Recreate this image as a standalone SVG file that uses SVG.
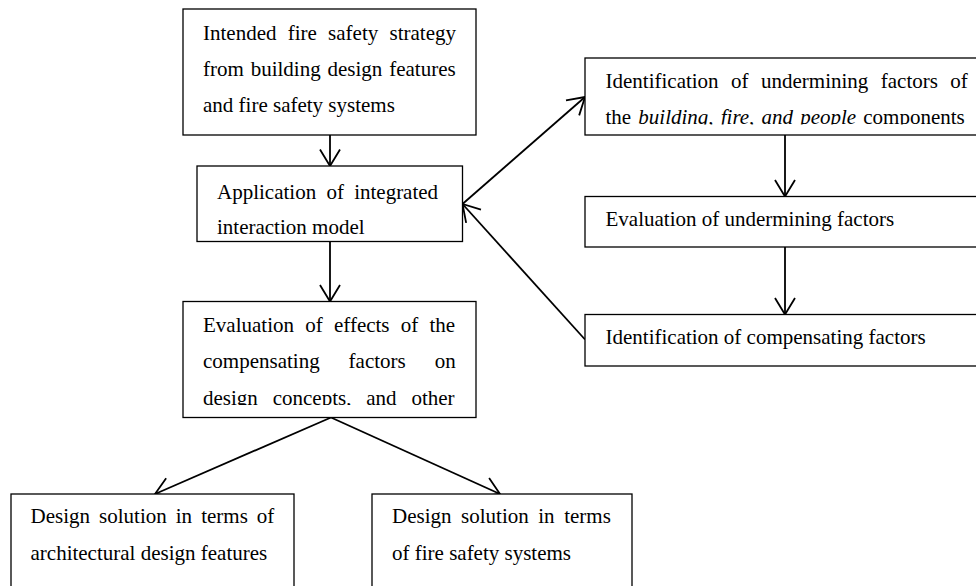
<svg xmlns="http://www.w3.org/2000/svg" width="976" height="586" viewBox="0 0 976 586">
<style>
.box{fill:#fff;stroke:#000;stroke-width:1.3}
.t{font-family:"Liberation Serif","Times New Roman",serif;font-size:21px;fill:#000}
.i{font-style:italic}
.c{fill:none;stroke:#000;stroke-width:1.8}
</style>
<defs>
<marker id="arr" markerUnits="userSpaceOnUse" viewBox="-18 -11 20 22" markerWidth="20" markerHeight="22" refX="0" refY="0" orient="auto" overflow="visible">
<path d="M-16.5,-10 L0,0 L-16.5,10" fill="none" stroke="#000" stroke-width="1.8"/>
</marker>
<clipPath id="clipR1"><rect x="580" y="50" width="400" height="74.5"/></clipPath>
<clipPath id="clipB3"><rect x="180" y="295" width="300" height="110"/></clipPath>
</defs>
<rect width="976" height="586" fill="#fff"/>
<g id="connectors">
<line class="c" x1="330" y1="135" x2="330" y2="166" marker-end="url(#arr)"/>
<line class="c" x1="330" y1="241.5" x2="330" y2="301.5" marker-end="url(#arr)"/>
<line class="c" x1="462.5" y1="204" x2="585" y2="97" marker-end="url(#arr)"/>
<line class="c" x1="585" y1="339.5" x2="462.5" y2="204" marker-end="url(#arr)"/>
<line class="c" x1="785" y1="135" x2="785" y2="196.5" marker-end="url(#arr)"/>
<line class="c" x1="785" y1="247" x2="785" y2="314.5" marker-end="url(#arr)"/>
<line class="c" x1="331" y1="417.5" x2="155" y2="494" marker-end="url(#arr)"/>
<line class="c" x1="331" y1="417.5" x2="500" y2="494" marker-end="url(#arr)"/>
</g>
<g id="n1">
<rect class="box" x="183" y="9" width="293" height="126"/>
<text class="t" x="203" y="40" style="word-spacing:6px">Intended fire safety strategy</text>
<text class="t" x="203" y="76" style="word-spacing:1.6px">from building design features</text>
<text class="t" x="203" y="112">and fire safety systems</text>
</g>
<g id="n2">
<rect class="box" x="197" y="166" width="265.5" height="75.5"/>
<text class="t" x="217" y="199" style="word-spacing:5px">Application of integrated</text>
<text class="t" x="217" y="234">interaction model</text>
</g>
<g id="n3">
<rect class="box" x="183" y="301.5" width="293" height="116"/>
<text class="t" x="203" y="332" style="word-spacing:6px">Evaluation of effects of the</text>
<text class="t" x="203" y="368" style="word-spacing:23.7px">compensating factors on</text>
<text class="t" x="203" y="404.5" style="word-spacing:9.6px" clip-path="url(#clipB3)">design concepts, and other</text>
</g>
<g id="r1">
<rect class="box" x="585" y="58" width="400" height="77"/>
<text class="t" x="605.5" y="88" style="word-spacing:7.2px">Identification of undermining factors of</text>
<text class="t" x="605.5" y="124" style="word-spacing:1.9px" clip-path="url(#clipR1)">the <tspan class="i">building, fire, and people</tspan> components</text>
</g>
<g id="r2">
<rect class="box" x="585" y="196.5" width="400" height="50.5"/>
<text class="t" x="605.5" y="225.5">Evaluation of undermining factors</text>
</g>
<g id="r3">
<rect class="box" x="585" y="314.5" width="400" height="51.5"/>
<text class="t" x="605.5" y="344">Identification of compensating factors</text>
</g>
<g id="bl">
<rect class="box" x="11" y="494" width="283" height="110"/>
<text class="t" x="30.5" y="523" style="word-spacing:3.8px">Design solution in terms of</text>
<text class="t" x="30.5" y="560">architectural design features</text>
</g>
<g id="br">
<rect class="box" x="372" y="494" width="260" height="110"/>
<text class="t" x="392" y="523" style="word-spacing:4.3px">Design solution in terms</text>
<text class="t" x="392" y="560">of fire safety systems</text>
</g>
</svg>
